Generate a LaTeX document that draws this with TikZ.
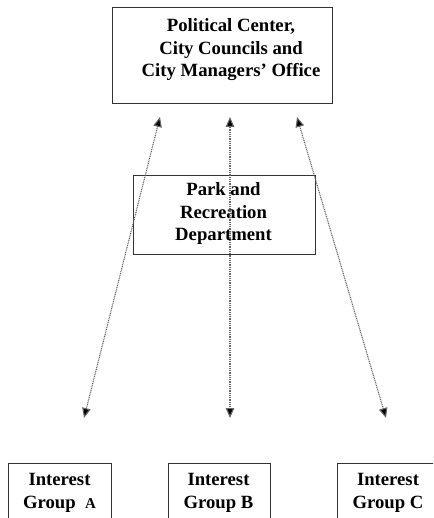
\documentclass[tikz,border=0pt]{standalone}
\usepackage{fontspec}
\setmainfont{Liberation Serif}
\usetikzlibrary{arrows.meta}
\begin{document}
\begin{tikzpicture}[x=1pt,y=-1pt,
  boxstyle/.style={draw=black!80, line width=0.9pt, inner sep=0pt, anchor=north west},
  txtstyle/.style={align=center, inner sep=0pt, font=\bfseries\fontsize{18.7}{22.5}\selectfont},
  link/.style={draw=black!60, line width=1.1pt, dash pattern=on 1pt off 0.8pt,
    {Triangle[length=10pt,width=8.5pt,fill=black]}-{Triangle[length=10pt,width=8.5pt,fill=black]}}]
\useasboundingbox (0,0) rectangle (433,518);
\clip (0,0) rectangle (433,518);
% boxes
\node[boxstyle, minimum width=220pt, minimum height=96pt] (pc) at (112,7) {};
\node[txtstyle] (pctxt) at (231,50) {Political Center,\\City Councils and\\City Managers’ Office};
\node[boxstyle, minimum width=182pt, minimum height=79pt] (prd) at (133,175) {};
\node[txtstyle] (prdtxt) at (223.5,214) {Park and\\Recreation\\Department};
\node[boxstyle, minimum width=103pt, minimum height=70pt] (ga) at (8,463) {};
\node[txtstyle] (gatxt) at (59.5,493) {Interest\\Group\ \ {\fontsize{15}{15}\selectfont A}};
\node[boxstyle, minimum width=102pt, minimum height=70pt] (gb) at (168,463) {};
\node[txtstyle] (gbtxt) at (218.5,493) {Interest\\Group B};
\node[boxstyle, minimum width=102pt, minimum height=70pt] (gc) at (337,463) {};
\node[txtstyle] (gctxt) at (388,493) {Interest\\Group C};
% arrow ends
\coordinate (t1) at (160,117);
\coordinate (t2) at (230,117);
\coordinate (t3) at (297,117);
\coordinate (b1) at (84,418);
\coordinate (b2) at (230,418);
\coordinate (b3) at (386,418);
\draw[link] (t1) -- (b1);
\draw[link] (t2) -- (b2);
\draw[link] (t3) -- (b3);
\end{tikzpicture}
\end{document}
